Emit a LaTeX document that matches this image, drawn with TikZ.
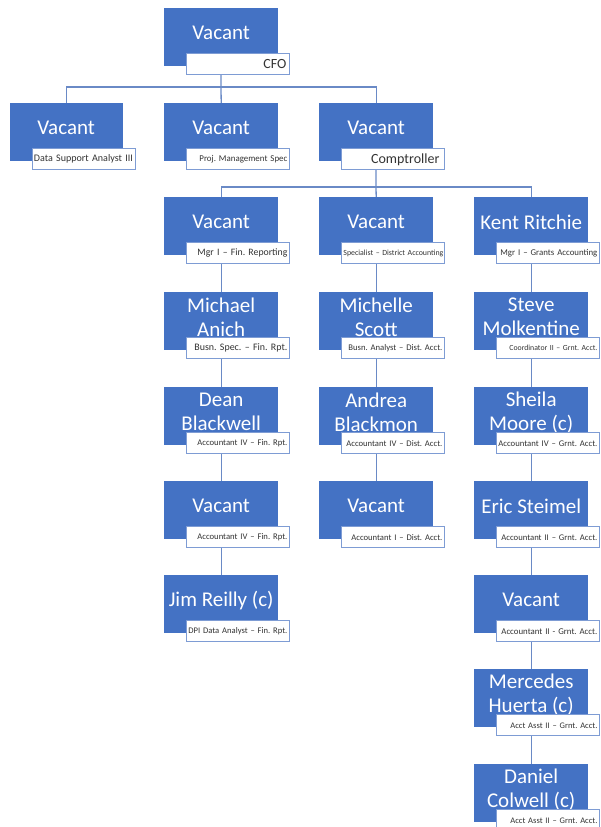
\documentclass[tikz,border=0pt]{standalone}
\usepackage{fontspec}
\setmainfont{Carlito}
\usepackage{graphicx}
\usetikzlibrary{backgrounds,calc}
\definecolor{boxblue}{HTML}{4472C4}
\definecolor{lineblue}{HTML}{6A8AC6}
\definecolor{lblborder}{HTML}{7E9CD4}
\definecolor{lbltext}{HTML}{333333}
\newcommand\fitl[2]{\resizebox{#1pt}{!}{#2}}
\frenchspacing
\begin{document}
\begin{tikzpicture}[x=1pt,y=-1pt,
  orgbox/.style={fill=boxblue, minimum width=114pt, minimum height=58pt, inner sep=0pt, anchor=north west},
  boxtxt/.style={text=white, font=\fontsize{21}{24}\selectfont, align=center, inner sep=0pt, yshift=4pt},
  sublbl/.style={draw=lblborder, line width=0.8pt, fill=white, minimum width=103pt, minimum height=21pt,
    inner sep=0pt, text width=99pt, align=right, anchor=north west, text=lbltext, font=\fontsize{8}{9}\selectfont},
  bigsub/.style={font=\fontsize{14}{16}\selectfont},
  conn/.style={draw=lineblue, line width=1.3pt}]
\useasboundingbox (0,0) rectangle (600,827);

% top
\node[orgbox, label={[boxtxt]center:{Vacant}}] (cfo) at (164,8) {};
\node[sublbl,bigsub] (cfol) at ($(cfo.south west)+(22,-13)$) {CFO\hspace*{1pt}};

% row 2
\node[orgbox, minimum width=113pt, label={[boxtxt]center:{Vacant}}] (dsa) at (9.5,103) {};
\node[sublbl] (dsal) at ($(dsa.south west)+(22,-13)$) {\fitl{99}{Data Support Analyst III}};
\node[orgbox, label={[boxtxt]center:{Vacant}}] (pms) at (164,103) {};
\node[sublbl] (pmsl) at ($(pms.south west)+(22,-13)$) {\fitl{88}{Proj. Management Spec}};
\node[orgbox, label={[boxtxt]center:{Vacant}}] (comp) at (319,103) {};
\node[sublbl,bigsub] (compl) at ($(comp.south west)+(22,-13)$) {Comptroller\hspace*{3pt}};

% column 1
\node[orgbox, label={[boxtxt]center:{Vacant}}] (a1) at (164,197) {};
\node[sublbl] (a1l) at ($(a1.south west)+(22,-13)$) {\fitl{90}{Mgr I – Fin. Reporting}};
\node[orgbox, label={[boxtxt]center:{Michael\\Anich}}] (a2) at (164,292) {};
\node[sublbl] (a2l) at ($(a2.south west)+(22,-13)$) {\fitl{93}{Busn. Spec. – Fin. Rpt.}};
\node[orgbox, label={[boxtxt]center:{Dean\\Blackwell}}] (a3) at (164,387) {};
\node[sublbl] (a3l) at ($(a3.south west)+(22,-13)$) {\fitl{90}{Accountant IV – Fin. Rpt.}};
\node[orgbox, label={[boxtxt]center:{Vacant}}] (a4) at (164,481) {};
\node[sublbl] (a4l) at ($(a4.south west)+(22,-13)$) {\fitl{90}{Accountant IV – Fin. Rpt.}};
\node[orgbox, label={[boxtxt]center:{Jim Reilly (c)}}] (a5) at (164,575) {};
\node[sublbl] (a5l) at ($(a5.south west)+(22,-13)$) {\fitl{99}{DPI Data Analyst – Fin. Rpt.}};

% column 2
\node[orgbox, label={[boxtxt]center:{Vacant}}] (b1) at (319,197) {};
\node[sublbl] (b1l) at ($(b1.south west)+(22,-13)$) {\fitl{100}{Specialist – District Accounting}};
\node[orgbox, label={[boxtxt]center:{Michelle\\Scott}}] (b2) at (319,292) {};
\node[sublbl] (b2l) at ($(b2.south west)+(22,-13)$) {\fitl{94}{Busn. Analyst – Dist. Acct.}};
\node[orgbox, label={[boxtxt]center:{Andrea\\Blackmon}}] (b3) at (319,387) {};
\node[sublbl] (b3l) at ($(b3.south west)+(22,-13)$) {\fitl{96}{Accountant IV – Dist. Acct.}};
\node[orgbox, label={[boxtxt]center:{Vacant}}] (b4) at (319,481) {};
\node[sublbl] (b4l) at ($(b4.south west)+(22,-13)$) {\fitl{91}{Accountant I – Dist. Acct.}};

% column 3
\node[orgbox, label={[boxtxt]center:{Kent Ritchie}}] (c1) at (474,197) {};
\node[sublbl] (c1l) at ($(c1.south west)+(22,-13)$) {\fitl{97}{Mgr I – Grants Accounting}};
\node[orgbox, label={[boxtxt]center:{Steve\\Molkentine}}] (c2) at (474,292) {};
\node[sublbl] (c2l) at ($(c2.south west)+(22,-13)$) {\fitl{88}{Coordinator II – Grnt. Acct.}};
\node[orgbox, label={[boxtxt]center:{Sheila\\Moore (c)}}] (c3) at (474,387) {};
\node[sublbl] (c3l) at ($(c3.south west)+(22,-13)$) {\fitl{99}{Accountant IV – Grnt. Acct.}};
\node[orgbox, label={[boxtxt]center:{Eric Steimel}}] (c4) at (474,481) {};
\node[sublbl] (c4l) at ($(c4.south west)+(22,-13)$) {\fitl{96}{Accountant II – Grnt. Acct.}};
\node[orgbox, label={[boxtxt]center:{Vacant}}] (c5) at (474,575) {};
\node[sublbl] (c5l) at ($(c5.south west)+(22,-13)$) {\fitl{96}{Accountant II - Grnt. Acct.}};
\node[orgbox, label={[boxtxt]center:{Mercedes\\Huerta (c)}}] (c6) at (474,669) {};
\node[sublbl] (c6l) at ($(c6.south west)+(22,-13)$) {\fitl{87}{Acct Asst II – Grnt. Acct.}};
\node[orgbox, label={[boxtxt]center:{Daniel\\Colwell (c)}}] (c7) at (474,764) {};
\node[sublbl] (c7l) at ($(c7.south west)+(22,-13)$) {\fitl{87}{Acct Asst II – Grnt. Acct.}};

\coordinate (j1) at (221,87);
\coordinate (j2) at (376,187);

\begin{scope}[on background layer]
\draw[conn] (cfo.center) -- (j1);
\draw[conn] (dsa.north) |- (j1) -| (comp.north);
\draw[conn] (j1) -- (pms.north);
\draw[conn] (comp.center) -- (j2);
\draw[conn] (a1.north) |- (j2) -| (c1.north);
\draw[conn] (j2) -- (b1.north);
\draw[conn] (a1.center) -- (a2.north);
\draw[conn] (a2.center) -- (a3.north);
\draw[conn] (a3.center) -- (a4.north);
\draw[conn] (a4.center) -- (a5.north);
\draw[conn] (b1.center) -- (b2.north);
\draw[conn] (b2.center) -- (b3.north);
\draw[conn] (b3.center) -- (b4.north);
\draw[conn] (c1.center) -- (c2.north);
\draw[conn] (c2.center) -- (c3.north);
\draw[conn] (c3.center) -- (c4.north);
\draw[conn] (c4.center) -- (c5.north);
\draw[conn] (c5.center) -- (c6.north);
\draw[conn] (c6.center) -- (c7.north);
\end{scope}
\end{tikzpicture}
\end{document}
